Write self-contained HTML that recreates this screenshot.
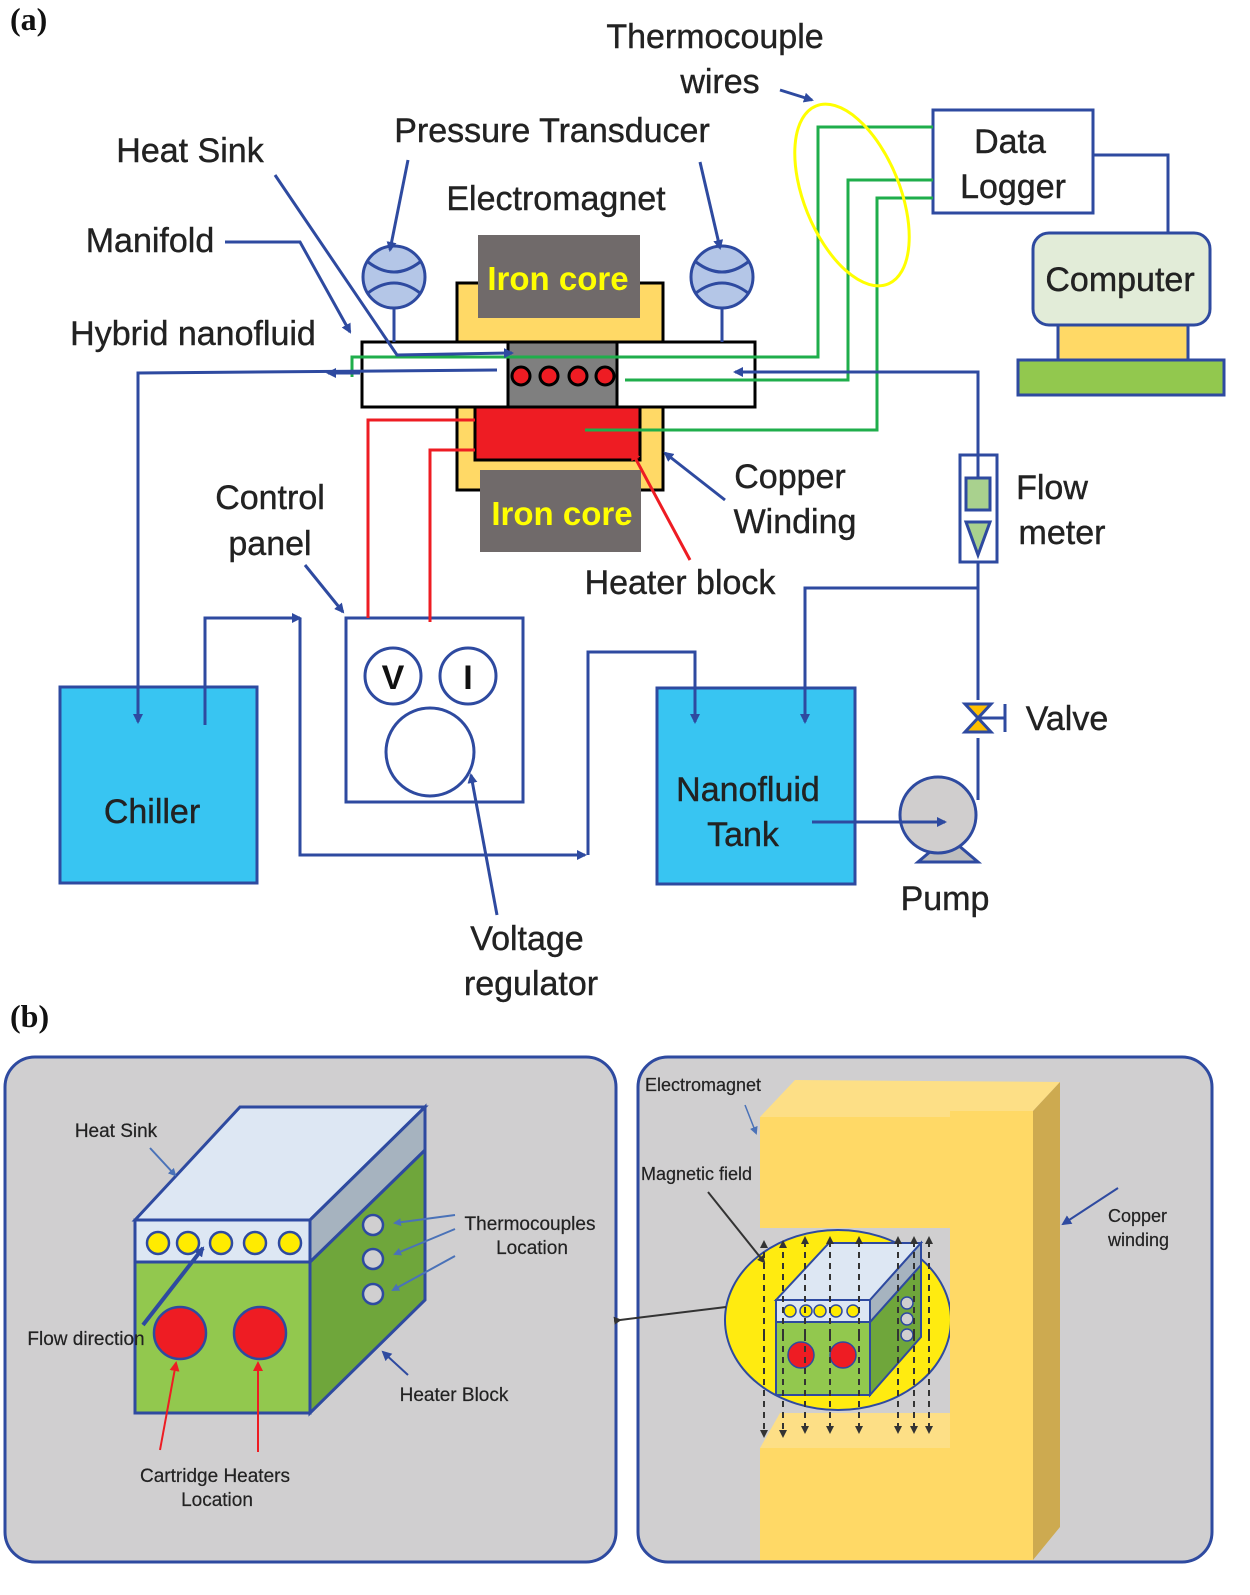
<!DOCTYPE html>
<html><head><meta charset="utf-8"><style>
html,body{margin:0;padding:0;background:#fff;}
svg{display:block}
text{font-family:"Liberation Sans",sans-serif;}
</style></head><body>
<svg width="1250" height="1595" viewBox="0 0 1250 1595" xmlns="http://www.w3.org/2000/svg">
<defs>
<marker id="ab" markerWidth="10" markerHeight="10" refX="8" refY="5" orient="auto" markerUnits="userSpaceOnUse"><path d="M0,0 L10,5 L0,10 z" fill="#2e4aa0"/></marker>
<marker id="ar" markerWidth="10" markerHeight="10" refX="8" refY="5" orient="auto" markerUnits="userSpaceOnUse"><path d="M0,0 L10,5 L0,10 z" fill="#ee1c23"/></marker>
<marker id="ak" markerWidth="8" markerHeight="8" refX="6" refY="4" orient="auto" markerUnits="userSpaceOnUse"><path d="M0,0 L8,4 L0,8 z" fill="#333"/></marker>
<marker id="as" markerWidth="8" markerHeight="8" refX="6" refY="4" orient="auto" markerUnits="userSpaceOnUse"><path d="M0,0 L8,4 L0,8 z" fill="#4a72b8"/></marker>
</defs>

<text x="10" y="30" font-weight="bold" font-size="32" fill="#111" style="font-family:'Liberation Serif',serif">(a)</text>

<g font-size="34" fill="#222" text-anchor="middle" stroke="#222" stroke-width="0.4">
<text x="715" y="48">Thermocouple</text>
<text x="720" y="93">wires</text>
<text x="552" y="142">Pressure Transducer</text>
<text x="556" y="210">Electromagnet</text>
<text x="190" y="162">Heat Sink</text>
<text x="150" y="252">Manifold</text>
<text x="193" y="345">Hybrid nanofluid</text>
<text x="1010" y="153">Data</text>
<text x="1013" y="198">Logger</text>
<text x="790" y="488">Copper</text>
<text x="795" y="533">Winding</text>
<text x="680" y="594">Heater block</text>
<text x="270" y="509">Control</text>
<text x="270" y="555">panel</text>
<text x="1052" y="499">Flow</text>
<text x="1062" y="544">meter</text>
<text x="1067" y="730">Valve</text>
<text x="945" y="910">Pump</text>
<text x="527" y="950">Voltage</text>
<text x="531" y="995">regulator</text>
</g>

<rect x="933" y="110" width="160" height="103" fill="none" stroke="#2e4aa0" stroke-width="3"/>
<polyline points="1093,155 1168,155 1168,250" fill="none" stroke="#2e4aa0" stroke-width="3"/>
<rect x="1058" y="325" width="130" height="35" fill="#ffd966" stroke="#2e4aa0" stroke-width="3"/>
<rect x="1018" y="360" width="206" height="35" fill="#92c84e" stroke="#2e4aa0" stroke-width="3"/>
<rect x="1033" y="233" width="177" height="92" rx="16" fill="#e2ecd8" stroke="#2e4aa0" stroke-width="3"/>
<text x="1120" y="291" font-size="34" fill="#222" stroke="#222" stroke-width="0.4" text-anchor="middle">Computer</text>

<rect x="457" y="283" width="206" height="59" fill="#ffd966" stroke="#000" stroke-width="3"/>
<rect x="478" y="235" width="162" height="83" fill="#706a6a"/>
<text x="558" y="290" font-size="33" font-weight="bold" fill="#ffff00" text-anchor="middle">Iron core</text>
<rect x="457" y="407" width="206" height="83" fill="#ffd966" stroke="#000" stroke-width="3"/>
<path d="M475,407 V460 H640 V407" fill="#ee1c23" stroke="#000" stroke-width="3"/>
<rect x="480" y="470" width="161" height="82" fill="#706a6a"/>
<text x="562" y="525" font-size="33" font-weight="bold" fill="#ffff00" text-anchor="middle">Iron core</text>
<rect x="362" y="342" width="393" height="65" fill="#fff" stroke="#000" stroke-width="3"/>
<rect x="508" y="342" width="109" height="65" fill="#7f7f7f" stroke="#000" stroke-width="3"/>
<g fill="#ee1c23" stroke="#000" stroke-width="3">
<circle cx="521" cy="376" r="9"/><circle cx="549" cy="376" r="9"/><circle cx="578" cy="376" r="9"/><circle cx="605" cy="376" r="9"/>
</g>

<g stroke="#2e4aa0" stroke-width="3">
<line x1="394" y1="308" x2="394" y2="342"/><line x1="722" y1="308" x2="722" y2="342"/>
<circle cx="394" cy="277" r="31" fill="#b4c6e7"/><circle cx="722" cy="277" r="31" fill="#b4c6e7"/>
<path d="M368,262 Q394,282 420,262 M368,293 Q394,273 420,293" fill="none"/>
<path d="M696,262 Q722,282 748,262 M696,293 Q722,273 748,293" fill="none"/>
</g>

<g fill="none" stroke="#1fae4b" stroke-width="3">
<polyline points="933,127 818,127 818,357 352,357 352,377"/>
<polyline points="933,180 848,180 848,380 625,380"/>
<polyline points="933,198 877,198 877,430 585,430"/>
</g>
<ellipse cx="852" cy="195" rx="48" ry="96" transform="rotate(-22 852 195)" fill="none" stroke="#ffff00" stroke-width="3"/>

<g fill="none" stroke="#2e4aa0" stroke-width="3">
<line x1="408" y1="160" x2="390" y2="250" marker-end="url(#ab)"/>
<line x1="700" y1="162" x2="720" y2="248" marker-end="url(#ab)"/>
<line x1="780" y1="90" x2="812" y2="100" marker-end="url(#ab)"/>
<polyline points="275,175 397,355 512,353" marker-end="url(#ab)"/>
<polyline points="225,242 300,242 350,332" marker-end="url(#ab)"/>
<polyline points="497,370 138,373 138,722" marker-end="url(#ab)"/>
<line x1="360" y1="373" x2="328" y2="373" marker-end="url(#ab)"/>
<polyline points="978,560 978,372 735,372" marker-end="url(#ab)"/>
<polyline points="978,562 978,700"/>
<polyline points="978,738 978,800"/>
<polyline points="978,588 805,588 805,722" marker-end="url(#ab)"/>
<polyline points="205,725 205,618 300,618" marker-end="url(#ab)"/>
<polyline points="300,618 300,855 585,855" marker-end="url(#ab)"/>
<polyline points="588,855 588,652 695,652 695,722" marker-end="url(#ab)"/>
<line x1="725" y1="500" x2="665" y2="453" marker-end="url(#ab)"/>
<line x1="305" y1="565" x2="343" y2="612" marker-end="url(#ab)"/>
</g>

<rect x="960" y="455" width="37" height="107" fill="#fff" stroke="#2e4aa0" stroke-width="3"/>
<line x1="978" y1="440" x2="978" y2="478" stroke="#2e4aa0" stroke-width="3"/>
<rect x="966" y="478" width="24" height="32" fill="#a9d18e" stroke="#2e4aa0" stroke-width="3"/>
<path d="M966,522 L990,522 L978,555 Z" fill="#a9d18e" stroke="#2e4aa0" stroke-width="3"/>
<path d="M965,704 L991,704 L978,718 Z M965,732 L991,732 L978,718 Z" fill="#ffc000" stroke="#2e4aa0" stroke-width="3"/>
<line x1="978" y1="718" x2="1005" y2="718" stroke="#2e4aa0" stroke-width="3"/>
<line x1="1005" y1="704" x2="1005" y2="732" stroke="#2e4aa0" stroke-width="3"/>
<path d="M918,862 L938,845 L958,845 L978,862 Z" fill="#bfbfbf" stroke="#2e4aa0" stroke-width="3"/>
<circle cx="938" cy="815" r="38" fill="#d0cece" stroke="#2e4aa0" stroke-width="3"/>

<rect x="657" y="688" width="198" height="196" fill="#38c5f2" stroke="#2e4aa0" stroke-width="3"/>
<rect x="60" y="687" width="197" height="196" fill="#38c5f2" stroke="#2e4aa0" stroke-width="3"/>
<g font-size="34" fill="#222" stroke="#222" stroke-width="0.4" text-anchor="middle">
<text x="748" y="801">Nanofluid</text><text x="743" y="846">Tank</text><text x="152" y="823">Chiller</text>
</g>
<line x1="812" y1="822" x2="945" y2="822" stroke="#2e4aa0" stroke-width="3" marker-end="url(#ab)"/>
<line x1="138" y1="680" x2="138" y2="722" stroke="#2e4aa0" stroke-width="3" marker-end="url(#ab)"/>
<line x1="205" y1="725" x2="205" y2="687" stroke="#2e4aa0" stroke-width="3"/>
<line x1="695" y1="680" x2="695" y2="722" stroke="#2e4aa0" stroke-width="3" marker-end="url(#ab)"/>
<line x1="805" y1="680" x2="805" y2="722" stroke="#2e4aa0" stroke-width="3" marker-end="url(#ab)"/>

<rect x="346" y="618" width="177" height="184" fill="#fff" stroke="#2e4aa0" stroke-width="3"/>
<circle cx="393" cy="676" r="28" fill="#fff" stroke="#2e4aa0" stroke-width="3"/>
<circle cx="468" cy="676" r="28" fill="#fff" stroke="#2e4aa0" stroke-width="3"/>
<circle cx="430" cy="752" r="44" fill="#fff" stroke="#2e4aa0" stroke-width="3"/>
<text x="393" y="689" font-size="34" font-weight="bold" fill="#111" text-anchor="middle">V</text>
<text x="468" y="689" font-size="34" font-weight="bold" fill="#111" text-anchor="middle">I</text>
<line x1="497" y1="915" x2="471" y2="775" stroke="#2e4aa0" stroke-width="3" marker-end="url(#ab)"/>
<g fill="none" stroke="#ee1c23" stroke-width="3">
<polyline points="368,618 368,420 475,420"/>
<polyline points="430,622 430,450 475,450"/>
<line x1="690" y1="560" x2="632" y2="452" marker-end="url(#ar)"/>
</g>

<text x="10" y="1027" font-weight="bold" font-size="32" fill="#111" style="font-family:'Liberation Serif',serif">(b)</text>

<rect x="5" y="1057" width="611" height="505" rx="30" fill="#d0cfd0" stroke="#2e4aa0" stroke-width="3"/>
<g stroke="#2e4aa0" stroke-width="3">
<polygon points="135,1262 310,1262 310,1413 135,1413" fill="#92c84e"/>
<polygon points="310,1262 425,1150 425,1300 310,1413" fill="#6fa63b"/>
<polygon points="135,1220 240,1107 425,1107 310,1220" fill="#dde7f3"/>
<polygon points="310,1220 425,1107 425,1150 310,1262" fill="#a6b3bf"/>
<rect x="135" y="1220" width="175" height="42" fill="#dde7f3"/>
</g>
<g fill="#ffeb00" stroke="#2e4aa0" stroke-width="2.5">
<circle cx="158" cy="1243" r="11"/><circle cx="188" cy="1243" r="11"/><circle cx="221" cy="1243" r="11"/><circle cx="255" cy="1243" r="11"/><circle cx="290" cy="1243" r="11"/>
</g>
<g fill="#d0cfd0" stroke="#2e4aa0" stroke-width="2.5">
<circle cx="373" cy="1225" r="10"/><circle cx="373" cy="1259" r="10"/><circle cx="373" cy="1294" r="10"/>
</g>
<circle cx="180" cy="1333" r="26" fill="#ee1c23" stroke="#2e4aa0" stroke-width="2.5"/>
<circle cx="260" cy="1333" r="26" fill="#ee1c23" stroke="#2e4aa0" stroke-width="2.5"/>
<line x1="143" y1="1325" x2="203" y2="1248" stroke="#2e4aa0" stroke-width="4" marker-end="url(#ab)"/>
<g stroke="#4a72b8" stroke-width="2" fill="none">
<line x1="150" y1="1148" x2="175" y2="1175" marker-end="url(#as)"/>
<line x1="455" y1="1215" x2="395" y2="1223" marker-end="url(#as)"/>
<line x1="455" y1="1229" x2="395" y2="1254" marker-end="url(#as)"/>
<line x1="455" y1="1256" x2="393" y2="1290" marker-end="url(#as)"/>
<line x1="408" y1="1375" x2="383" y2="1352" stroke="#2e4aa0" marker-end="url(#ab)"/>
</g>
<g stroke="#ee1c23" stroke-width="2" fill="none">
<line x1="160" y1="1450" x2="176" y2="1363" marker-end="url(#ar)"/>
<line x1="258" y1="1452" x2="258" y2="1363" marker-end="url(#ar)"/>
</g>
<g font-size="19" fill="#222" text-anchor="middle" stroke="#222" stroke-width="0.2">
<text x="116" y="1137">Heat Sink</text>
<text x="530" y="1230">Thermocouples</text>
<text x="532" y="1254">Location</text>
<text x="86" y="1345">Flow direction</text>
<text x="454" y="1401">Heater Block</text>
<text x="215" y="1482">Cartridge Heaters</text>
<text x="217" y="1506">Location</text>
</g>

<rect x="638" y="1057" width="574" height="505" rx="30" fill="#d0cfd0" stroke="#2e4aa0" stroke-width="3"/>
<polygon points="760,1117 795,1080 1060,1082 1033,1111 950,1111 950,1117" fill="#fddf86"/>
<rect x="760" y="1117" width="190" height="111" fill="#ffd966"/>
<polygon points="760,1448 780,1413 950,1413 950,1448" fill="#fddf86"/>
<rect x="760" y="1448" width="190" height="112" fill="#ffd966"/>
<ellipse cx="838" cy="1320" rx="113" ry="90" fill="#ffeb10" stroke="#2e4aa0" stroke-width="2"/>
<line x1="620" y1="1320" x2="726" y2="1307" stroke="#333" stroke-width="2" marker-start="url(#ak)"/>
<g stroke="#2e4aa0" stroke-width="2">
<polygon points="776,1322 870,1322 870,1395 776,1395" fill="#92c84e"/>
<polygon points="870,1322 921,1265 921,1337 870,1395" fill="#6fa63b"/>
<polygon points="776,1300 829,1243 921,1243 870,1300" fill="#dde7f3"/>
<polygon points="870,1300 921,1243 921,1265 870,1322" fill="#a6b3bf"/>
<rect x="776" y="1300" width="94" height="22" fill="#dde7f3"/>
</g>
<g fill="#ffeb00" stroke="#2e4aa0" stroke-width="1.5">
<circle cx="790" cy="1311" r="6"/><circle cx="806" cy="1311" r="6"/><circle cx="820" cy="1311" r="6"/><circle cx="836" cy="1311" r="6"/><circle cx="853" cy="1311" r="6"/>
</g>
<g fill="#d0cfd0" stroke="#2e4aa0" stroke-width="1.5">
<circle cx="907" cy="1303" r="6"/><circle cx="907" cy="1319" r="6"/><circle cx="907" cy="1335" r="6"/>
</g>
<circle cx="801" cy="1355" r="13" fill="#ee1c23" stroke="#2e4aa0" stroke-width="1.5"/>
<circle cx="843" cy="1355" r="13" fill="#ee1c23" stroke="#2e4aa0" stroke-width="1.5"/>
<g stroke="#333" stroke-width="2" stroke-dasharray="6,5" fill="none">
<line x1="764" y1="1335" x2="764" y2="1242" marker-end="url(#ak)"/><line x1="764" y1="1335" x2="764" y2="1436" marker-end="url(#ak)"/>
<line x1="783" y1="1335" x2="783" y2="1242" marker-end="url(#ak)"/><line x1="783" y1="1335" x2="783" y2="1436" marker-end="url(#ak)"/>
<line x1="805" y1="1335" x2="805" y2="1238" marker-end="url(#ak)"/><line x1="805" y1="1335" x2="805" y2="1432" marker-end="url(#ak)"/>
<line x1="830" y1="1335" x2="830" y2="1238" marker-end="url(#ak)"/><line x1="830" y1="1335" x2="830" y2="1432" marker-end="url(#ak)"/>
<line x1="859" y1="1335" x2="859" y2="1238" marker-end="url(#ak)"/><line x1="859" y1="1335" x2="859" y2="1432" marker-end="url(#ak)"/>
<line x1="898" y1="1335" x2="898" y2="1238" marker-end="url(#ak)"/><line x1="898" y1="1335" x2="898" y2="1432" marker-end="url(#ak)"/>
<line x1="914" y1="1335" x2="914" y2="1238" marker-end="url(#ak)"/><line x1="914" y1="1335" x2="914" y2="1432" marker-end="url(#ak)"/>
<line x1="929" y1="1335" x2="929" y2="1238" marker-end="url(#ak)"/><line x1="929" y1="1335" x2="929" y2="1432" marker-end="url(#ak)"/>
</g>
<rect x="950" y="1111" width="83" height="449" fill="#ffd966"/>
<polygon points="1033,1111 1060,1082 1060,1527 1033,1560" fill="#cdaa50"/>
<line x1="1118" y1="1188" x2="1063" y2="1224" stroke="#2e4aa0" stroke-width="2" marker-end="url(#ab)"/>
<line x1="745" y1="1105" x2="756" y2="1133" stroke="#4a72b8" stroke-width="1.5" marker-end="url(#as)"/>
<line x1="708" y1="1192" x2="764" y2="1262" stroke="#333" stroke-width="2" marker-end="url(#ak)"/>
<g font-size="18" fill="#222" stroke="#222" stroke-width="0.2">
<text x="645" y="1091">Electromagnet</text>
<text x="641" y="1180">Magnetic field</text>
<text x="1108" y="1222">Copper</text>
<text x="1108" y="1246">winding</text>
</g>
</svg>
</body></html>
